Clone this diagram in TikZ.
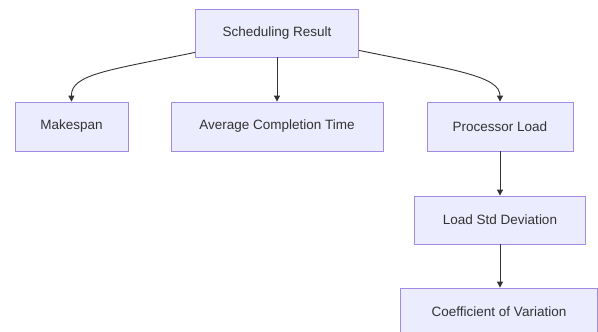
\documentclass[tikz,border=0pt]{standalone}
\usepackage{fontspec}
\setmainfont{Liberation Sans}
\usetikzlibrary{arrows.meta}
\definecolor{boxfill}{HTML}{ECECFF}
\definecolor{boxline}{HTML}{A38BE3}
\definecolor{edge}{HTML}{333333}
\definecolor{txt}{HTML}{333333}
\begin{document}
\begin{tikzpicture}[x=1pt,y=-1pt,
  box/.style={draw=boxline,fill=boxfill,line width=0.8pt,minimum height=48pt,inner sep=0pt,text=txt,font=\fontsize{13.5}{15}\selectfont},
  conn/.style={draw=edge,line width=0.9pt,-{Triangle[length=6pt,width=6pt]}}]
\useasboundingbox (0,0) rectangle (598,332);
\node[box,minimum width=163pt] (sr) at (277,33) {Scheduling Result};
\node[box,minimum width=113pt,minimum height=49pt] (mk) at (71.5,126.5) {Makespan};
\node[box,minimum width=212pt,minimum height=49pt] (act) at (277,126.5) {Average Completion Time};
\node[box,minimum width=146pt,minimum height=49pt] (pl) at (500,126.5) {Processor Load};
\node[box,minimum width=171pt] (lsd) at (500,220) {Load Std Deviation};
\node[box,minimum width=197pt] (cv) at (499,312) {Coefficient of Variation};
\draw[conn] ([yshift=5pt]sr.south west) .. controls (110,70) and (71,74) .. (mk.north);
\draw[conn] (sr.south) -- (act.north);
\draw[conn] ([yshift=7pt]sr.south east) .. controls (455,70) and (500,76) .. (pl.north);
\draw[conn] (pl.south) -- (lsd.north);
\draw[conn] (lsd.south) -- (lsd.south |- cv.north);
\end{tikzpicture}
\end{document}
